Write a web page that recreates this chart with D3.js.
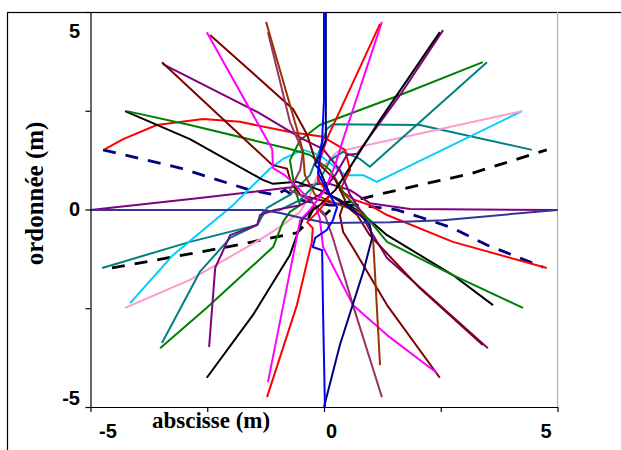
<!DOCTYPE html>
<html lang="fr">
<head>
<meta charset="UTF-8">
<title>Trajectoires</title>
<script src="https://d3js.org/d3.v7.min.js"></script>
<style>
  body { margin: 0; background: #fff; }
  .tick text { font-family: Arial, "Liberation Sans", sans-serif; font-weight: bold; font-size: 20px; fill: #000; }
  .title { font-family: "Times New Roman", "Liberation Serif", serif; font-weight: bold; fill: #000; }
</style>
</head>
<body>
<div id="chart"></div>
<script>
const xTicks = [-5, -2.5, 0, 2.5, 5];
const yTicks = [-5, -2.5, 0, 2.5, 5];
const labelledTicks = [-5, 0, 5];

// trajectories in metres, [abscisse, ordonnée]
const blue = [[0,5],[0,2.77],[-0.04,1.76],[-0.13,0.92],[0.06,0.49],[0.28,0.06],[0.19,-0.27],[0.06,-0.52],[-0.19,-0.72],[-0.24,-0.95],[-0.04,-1.03],[-0.02,-2.59],[0.02,-5]];
const navy = [[0.04,5],[0.04,1.76],[-0.19,1.13],[-0.09,1.0],[0.13,0.37],[0.77,-0.14],[0.98,-0.39],[1.03,-0.72],[0.84,-1.58],[0.34,-3.43],[0,-5]];
const navyDash = [[-4.73,1.51],[-3.08,1.05],[-1.58,0.49],[-1.05,0.37],[-0.84,0.49],[-0.51,0.24],[0.13,0.11],[0.77,0.11],[1.56,-0.01],[2.05,-0.19],[2.76,-0.47],[3.49,-0.90],[4.20,-1.23],[4.69,-1.46]];
const blackDash = [[-4.54,-1.48],[-2.16,-0.97],[-0.58,-0.59],[-0.41,-0.39],[-0.19,0.11],[0.02,-0.14],[0.24,0.11],[1.13,0.37],[2.05,0.62],[3.12,0.90],[4.77,1.51]];
const indigo = [[-5,-0.01],[-1.31,-0.01],[-0.94,-0.09],[-0.45,-0.22],[0.06,-0.34],[1.41,-0.32],[2.55,-0.27],[5,-0.01]];
const purpleH = [[-5,-0.01],[-2.66,0.29],[-1.01,0.52],[0.06,0.67],[0.56,0.49],[0.98,0.16],[1.84,0.01],[5,-0.01]];
const magentaA = [[-2.51,4.49],[-1.11,1.53],[-1.09,1.05],[-0.84,0.87],[-0.51,0.49],[-0.19,0.11],[-0.09,-0.22],[-0.02,-0.95],[0.62,-2.42],[1.35,-3.18],[2.42,-4.14]];
const magentaB = [[1.24,4.75],[0.41,1.78],[0.24,1.13],[0.02,0.49],[-0.30,-0.01],[-0.51,-0.27],[-0.73,-1.58],[-1.20,-4.37]];
const redA = [[1.20,4.70],[0.06,1.78],[-0.09,1.25],[-0.13,0.75],[0.13,0.37],[-0.09,-0.01],[-0.36,-0.32],[-0.24,-0.47],[-0.26,-0.82],[-0.58,-2.42],[-1.22,-4.75]];
const blackA = [[2.48,4.49],[1.20,2.27],[0.45,0.87],[0.24,0.49],[-0.09,0.11],[-0.30,-0.06],[-0.45,-0.22],[-0.73,-1.15],[-1.52,-2.67],[-2.51,-4.26]];
const purpleA = [[2.55,4.54],[1.63,2.90],[0.71,1.41],[0.49,1.38],[0.24,0.87],[-0.09,0.37],[-0.51,0.11],[-1.05,-0.01],[-1.37,-0.14],[-1.43,-0.39],[-2.01,-0.65],[-2.33,-1.48],[-2.46,-3.48]];
const maroonA = [[-3.47,3.73],[-1.11,1.13],[-0.79,1.03],[-0.73,0.77],[-0.51,0.37],[-0.09,0.24],[0.45,0.11],[0.71,-0.14],[0.98,-0.65],[2.05,-1.99],[3.40,-3.43]];
const maroonB = [[-2.44,4.42],[-0.66,2.54],[-0.36,1.89],[-0.19,1.25],[0.24,0.75],[0.45,0.24],[0.34,-0.14],[0.41,-0.57],[0.62,-0.97],[1.35,-2.42],[2.48,-4.26]];
const purpleB = [[-3.45,3.68],[-1.43,2.47],[-0.45,1.78],[-0.02,1.53],[0.34,1.0],[0.56,0.37],[0.77,-0.01],[0.92,-0.39],[1.35,-1.23],[3.51,-3.51]];
const brown = [[-1.24,4.75],[-0.58,2.04],[-0.45,1.46],[-0.41,0.87],[-0.19,0.37],[0.34,0.11],[0.77,-0.06],[0.94,-0.32],[1.05,-0.72],[1.20,-3.94]];
const plum = [[-1.20,4.49],[-0.73,2.22],[-0.45,1.46],[-0.51,1.0],[-0.73,0.49],[-0.30,0.24],[0.02,-0.14],[0.13,-0.52],[0.19,-0.72],[0.62,-2.42],[1.24,-4.75]];
const greenA = [[-4.22,2.49],[-2.87,2.14],[-0.73,1.53],[-0.30,1.38],[0.13,1.0],[0.45,0.37],[0.66,0.11],[0.84,-0.09],[1.05,-0.39],[1.35,-0.82],[2.76,-1.66],[4.26,-2.49]];
const blackB = [[-4.26,2.49],[-2.87,1.78],[-1.31,0.75],[-1.09,0.65],[-0.58,0.70],[-0.09,0.49],[0.34,0.24],[0.77,-0.06],[1.35,-0.65],[2.76,-1.66],[3.62,-2.42]];
const redB = [[-4.69,1.53],[-4.30,1.78],[-3.58,2.14],[-2.59,2.29],[-1.80,2.22],[-0.73,1.96],[-0.02,1.84],[0.45,1.51],[0.56,1.0],[0.34,0.49],[0.66,0.24],[0.98,0.11],[1.35,-0.14],[2.76,-0.82],[4.77,-1.48]];
const tealA = [[3.49,3.73],[0.98,1.08],[0.77,1.28],[0.41,1.46],[0.13,1.25],[-0.09,0.75],[-0.51,0.24],[-0.94,-0.01],[-1.31,-0.06],[-1.43,-0.39],[-2.01,-0.72],[-2.66,-1.58],[-3.47,-3.38]];
const greenB = [[3.40,3.73],[1.63,2.90],[-0.09,2.14],[-0.51,1.76],[-0.73,1.25],[-0.62,0.49],[-0.51,0.11],[-0.73,-0.06],[-0.88,-0.32],[-1.09,-0.95],[-2.51,-2.49],[-3.51,-3.51]];
const pink = [[4.24,2.49],[0.28,1.46],[-0.09,1.0],[-0.30,0.37],[-0.51,-0.06],[-0.88,-0.39],[-1.31,-0.72],[-2.87,-1.78],[-4.26,-2.49]];
const cyan = [[-4.15,-2.37],[-3.23,-1.15],[-1.95,0.11],[-1.16,1.03],[-0.88,1.28],[-0.45,1.51],[-0.09,1.38],[0.45,0.87],[0.84,0.87],[1.13,0.70],[4.24,2.49]];
const tealB = [[4.45,1.51],[2.05,2.14],[0.19,2.16],[0.06,2.04],[-0.09,1.51],[-0.30,0.87],[-0.73,0.37],[-1.22,0.04],[-1.43,-0.39],[-2.87,-0.82],[-4.75,-1.48]];

// drawing order, bottom to top
const series = [
  { pts: navyDash, color: "#000080", dash: true },
  { pts: blackDash, color: "#000000", dash: true },
  { pts: purpleH, color: "#800080" },
  { pts: tealB, color: "#008080" },
  { pts: cyan, color: "#00CCFF" },
  { pts: pink, color: "#FF99CC" },
  { pts: greenB, color: "#008000" },
  { pts: tealA, color: "#008080" },
  { pts: redB, color: "#FF0000" },
  { pts: blackB, color: "#000000" },
  { pts: greenA, color: "#008000" },
  { pts: purpleB, color: "#800080" },
  { pts: maroonA, color: "#800000" },
  { pts: maroonB, color: "#800000" },
  { pts: magentaA, color: "#FF00FF" },
  { pts: plum, color: "#993366" },
  { pts: brown, color: "#993300" },
  { pts: purpleA, color: "#800080" },
  { pts: blackA, color: "#000000" },
  { pts: magentaB, color: "#FF00FF" },
  { pts: redA, color: "#FF0000" },
  { pts: navy, color: "#000080" },
  { pts: indigo, color: "#333399" },
  { pts: blue, color: "#0000FF" }
];

const width = 621, height = 450;
const plot = { left: 90.5, right: 557.5, top: 12, bottom: 407 };

const svg = d3.select("#chart").append("svg")
    .attr("width", width)
    .attr("height", height);

// outer frame (runs off the right and bottom edges)
svg.append("rect")
    .attr("x", 7.5).attr("y", 12.5)
    .attr("width", 700).attr("height", 500)
    .attr("fill", "none").attr("stroke", "#000").attr("stroke-width", 1.2);

const x = d3.scaleLinear().domain([-5, 5]).range([plot.left, plot.right]);
const y = d3.scaleLinear().domain([-5, 5]).range([plot.bottom, plot.top]);

// right border of the plot area
svg.append("line")
    .attr("x1", plot.right).attr("x2", plot.right)
    .attr("y1", plot.top).attr("y2", plot.bottom)
    .attr("stroke", "#b0b0b0").attr("stroke-width", 1.2);

const line = d3.line().x(d => x(d[0])).y(d => y(d[1]));

svg.append("g")
  .selectAll("path")
  .data(series)
  .join("path")
    .attr("d", d => line(d.pts))
    .attr("fill", "none")
    .attr("stroke", d => d.color)
    .attr("stroke-width", d => d.dash ? 2.8 : 2)
    .attr("stroke-dasharray", d => d.dash ? "13,10" : null)
    .attr("stroke-linejoin", "round");

const fmt = d => labelledTicks.includes(d) ? String(d) : "";

const gx = svg.append("g")
    .attr("transform", `translate(0,${plot.bottom})`)
    .call(d3.axisBottom(x).tickValues(xTicks).tickSize(5).tickSizeOuter(0).tickFormat(fmt));
gx.selectAll(".tick text").attr("y", 17);
// Excel pushes the end labels inwards
gx.selectAll(".tick text").attr("dx", d => d === -5 ? 17 : d === 5 ? -12 : 7);

const gy = svg.append("g")
    .attr("transform", `translate(${plot.left},0)`)
    .call(d3.axisLeft(y).tickValues(yTicks).tickSize(5).tickSizeOuter(0).tickFormat(fmt));
gy.selectAll(".tick text").attr("x", -10.5)
    .attr("dy", d => d === 5 ? "1.25em" : d === -5 ? "-0.13em" : "0.32em");

svg.selectAll(".domain").attr("stroke", "#000").attr("stroke-width", 1.2);
svg.selectAll(".tick line").attr("stroke", "#000").attr("stroke-width", 1.2);

svg.append("text")
    .attr("class", "title")
    .attr("x", 152).attr("y", 428)
    .style("font-size", "23px")
    .text("abscisse (m)");

svg.append("text")
    .attr("class", "title")
    .attr("transform", "translate(43,193.5) rotate(-90)")
    .attr("text-anchor", "middle")
    .style("font-size", "25px")
    .text("ordonnée (m)");
</script>
</body>
</html>
